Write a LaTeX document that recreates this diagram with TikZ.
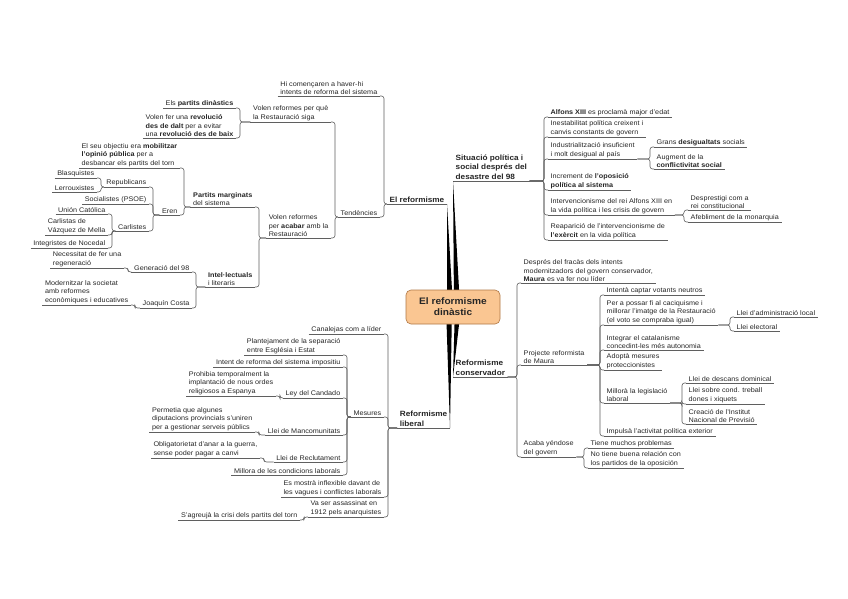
\documentclass[tikz,border=0pt]{standalone}
\usepackage{fontspec}
\setmainfont[FakeStretch=1.08]{Liberation Sans}
\definecolor{linecol}{RGB}{95,95,95}
\definecolor{nodefill}{RGB}{250,198,146}
\definecolor{nodedraw}{RGB}{176,120,70}

\begin{document}
\begin{tikzpicture}[x=1pt, y=-1pt,
	tl/.style = {inner xsep=2.5pt, inner ysep=1.2pt, align=left, text=black!85, font=\fontsize{6.7}{8.5}\selectfont},
	lft/.style = {tl, anchor=south east},
	rgt/.style = {tl, anchor=south west},
	mainl/.style = {lft, font=\fontsize{7.6}{9.6}\selectfont\bfseries},
	mainr/.style = {rgt, font=\fontsize{7.6}{9.6}\selectfont\bfseries},
	conn/.style = {draw=linecol, line width=0.6pt, rounded corners=2.5pt},
	uline/.style = {draw=linecol, line width=0.6pt},
	branch/.style = {fill=black},
	centre/.style = {draw=nodedraw, fill=nodefill, line width=0.6pt, rounded corners=5pt, minimum width=94pt, minimum height=34pt, align=center, text=black!85, font=\fontsize{9.4}{11}\selectfont\bfseries}]
	\path[fill=white] (0,0) rectangle (848,599);
	% main topics
	\node[mainl] (er) at (447,204) {El reformisme};
	\node[mainr] (sit) at (453,181) {Situació política i\\social després del\\desastre del 98};
	\node[mainr] (con) at (453,377) {Reformisme\\conservador};
	\node[mainl] (lib) at (450,428) {Reformisme\\liberal};
	% El reformisme
	\node[lft] (hi) at (380,96) {Hi començaren a haver-hi\\intents de reforma del sistema};
	\node[lft] (ten) at (380,217) {Tendències};
	\node[lft] (vq) at (331,122) {Volen reformes per què\\la Restauració siga};
	\node[lft] (va) at (331,238) {Volen reformes\\per \textbf{acabar} amb la\\Restauració};
	\node[lft] (epd) at (236,108) {Els \textbf{partits dinàstics}};
	\node[lft] (vfr) at (236,138) {Volen fer una \textbf{revolució}\\\textbf{des de dalt} per a evitar\\una \textbf{revolució des de baix}};
	\node[lft] (pm) at (255,207) {\textbf{Partits marginats}\\del sistema};
	\node[lft] (il) at (255,287) {\textbf{Intel·lectuals}\\i literaris};
	\node[lft] (obj) at (180,168) {El seu objectiu era \textbf{mobilitzar}\\\textbf{l'opinió pública} per a\\desbancar els partits del torn};
	\node[lft] (eren) at (180,215) {Eren};
	\node[lft] (rep) at (149,187) {Republicans};
	\node[lft] (soc) at (149,204) {Socialistes (PSOE)};
	\node[lft] (car) at (149,231) {Carlistes};
	\node[lft] (bla) at (97,178) {Blasquistes};
	\node[lft] (ler) at (97,192) {Lerrouxistes};
	\node[lft] (uc) at (108,214) {Unión Católica};
	\node[lft] (cvm) at (108,235) {Carlistas de\\Vázquez de Mella};
	\node[lft] (ind) at (108,248) {Integristes de Nocedal};
	\node[lft] (g98) at (192,272) {Generació del 98};
	\node[lft] (jc) at (192,308) {Joaquín Costa};
	\node[lft] (nec) at (124,268) {Necessitat de fer una\\regeneració};
	\node[lft] (mod) at (131,305) {Modernitzar la societat\\amb reformes\\econòmiques i educatives};
	% Situacio
	\node[rgt] (alf) at (548,117) {\textbf{Alfons XIII} es proclamà major d'edat};
	\node[rgt] (ine) at (548,137) {Inestabilitat política creixent i\\canvis constants de govern};
	\node[rgt] (indu) at (548,159) {Industrialització insuficient\\i molt desigual al país};
	\node[rgt] (inc) at (548,190) {Increment de \textbf{l'oposició}\\\textbf{política al sistema}};
	\node[rgt] (intv) at (548,215) {Intervencionisme del rei Alfons XIII en\\la vida política i les crisis de govern};
	\node[rgt] (rea) at (548,240) {Reaparició de l'intervencionisme de\\\textbf{l'exèrcit} en la vida política};
	\node[rgt] (gds) at (654,147) {Grans \textbf{desigualtats} socials};
	\node[rgt] (aug) at (654,169) {Augment de la\\\textbf{conflictivitat social}};
	\node[rgt] (desp) at (688,210) {Desprestigi com a\\rei constitucional};
	\node[rgt] (afe) at (688,222) {Afebliment de la monarquia};
	% Reformisme conservador
	\node[rgt] (fra) at (521,283) {Després del fracàs dels intents\\modernitzadors del govern conservador,\\\textbf{Maura} es va fer nou líder};
	\node[rgt] (pro) at (521,365) {Projecte reformista\\de Maura};
	\node[rgt] (aca) at (521,457) {Acaba yéndose\\del govern};
	\node[rgt] (icv) at (604,295) {Intentà captar votants neutros};
	\node[rgt] (ppf) at (604,325) {Per a possar fi al caciquisme i\\millorar l'imatge de la Restauració\\(el voto se compraba igual)};
	\node[rgt] (icat) at (604,350) {Integrar el catalanisme\\concedint-les més autonomia};
	\node[rgt] (adm) at (604,370) {Adoptà mesures\\proteccionistes};
	\node[rgt] (mil) at (604,403) {Millorà la legislació\\laboral};
	\node[rgt] (imp) at (604,436) {Impulsà l'activitat política exterior};
	\node[rgt] (lal) at (734,317) {Llei d'administració local};
	\node[rgt] (lel) at (734,331) {Llei electoral};
	\node[rgt] (ldd) at (686,383) {Llei de descans dominical};
	\node[rgt] (lsc) at (686,404) {Llei sobre cond. treball\\dones i xiquets};
	\node[rgt] (cip) at (686,424) {Creació de l'Institut\\Nacional de Previsió};
	\node[rgt] (tmp) at (588,448) {Tiene muchos problemas};
	\node[rgt] (ntb) at (588,468) {No tiene buena relación con\\los partidos de la oposición};
	% Reformisme liberal
	\node[lft] (can) at (384,334) {Canalejas com a líder};
	\node[lft] (mes) at (384,417) {Mesures};
	\node[lft] (esm) at (384,497) {Es mostrà inflexible davant de\\les vagues i conflictes laborals};
	\node[lft] (vsa) at (384,517) {Va ser assassinat en\\1912 pels anarquistes};
	\node[lft] (pla) at (343,355) {Plantejament de la separació\\entre Església i Estat};
	\node[lft] (irs) at (343,367) {Intent de reforma del sistema impositiu};
	\node[lft] (ldc) at (343,398) {Ley del Candado};
	\node[lft] (lman) at (343,435) {Llei de Mancomunitats};
	\node[lft] (lrec) at (343,462) {Llei de Reclutament};
	\node[lft] (mcl) at (343,475) {Millora de les condicions laborals};
	\node[lft] (prh) at (276,396) {Prohibia temporalment la\\implantació de nous ordes\\religiosos a Espanya};
	\node[lft] (per) at (255,432) {Permetia que algunes\\diputacions provincials s'uniren\\per a gestionar serveis públics};
	\node[lft] (obl) at (260,458) {Obligatorietat d'anar a la guerra,\\sense poder pagar a canvi};
	\node[lft] (sag) at (300,520) {S'agreujà la crisi dels partits del torn};
	% underlines
	\foreach \n in {er,sit,con,lib,hi,ten,vq,va,epd,vfr,pm,il,obj,eren,rep,soc,car,bla,ler,uc,cvm,ind,g98,jc,nec,mod,alf,ine,indu,inc,intv,rea,gds,aug,desp,afe,fra,pro,aca,icv,ppf,icat,adm,mil,imp,lal,lel,ldd,lsc,cip,tmp,ntb,can,mes,esm,vsa,pla,irs,ldc,lman,lrec,mcl,prh,per,obl,sag}
		\draw[uline] (\n.south west) -- (\n.south east);
	% left connectors
	\draw[conn] (er.south west) -| ([xshift=4pt]hi.south east) -- (hi.south east);
	\draw[conn] (er.south west) -| ([xshift=4pt]ten.south east) -- (ten.south east);
	\draw[conn] (ten.south west) -| ([xshift=4pt]vq.south east) -- (vq.south east);
	\draw[conn] (ten.south west) -| ([xshift=4pt]va.south east) -- (va.south east);
	\draw[conn] (vq.south west) -| ([xshift=4pt]epd.south east) -- (epd.south east);
	\draw[conn] (vq.south west) -| ([xshift=4pt]vfr.south east) -- (vfr.south east);
	\draw[conn] (va.south west) -| ([xshift=4pt]pm.south east) -- (pm.south east);
	\draw[conn] (va.south west) -| ([xshift=4pt]il.south east) -- (il.south east);
	\draw[conn] (pm.south west) -| ([xshift=4pt]obj.south east) -- (obj.south east);
	\draw[conn] (pm.south west) -| ([xshift=4pt]eren.south east) -- (eren.south east);
	\draw[conn] (eren.south west) -| ([xshift=4pt]rep.south east) -- (rep.south east);
	\draw[conn] (eren.south west) -| ([xshift=4pt]soc.south east) -- (soc.south east);
	\draw[conn] (eren.south west) -| ([xshift=4pt]car.south east) -- (car.south east);
	\draw[conn] (rep.south west) -| ([xshift=4pt]bla.south east) -- (bla.south east);
	\draw[conn] (rep.south west) -| ([xshift=4pt]ler.south east) -- (ler.south east);
	\draw[conn] (car.south west) -| ([xshift=4pt]uc.south east) -- (uc.south east);
	\draw[conn] (car.south west) -| ([xshift=4pt]cvm.south east) -- (cvm.south east);
	\draw[conn] (car.south west) -| ([xshift=4pt]ind.south east) -- (ind.south east);
	\draw[conn] (il.south west) -| ([xshift=4pt]g98.south east) -- (g98.south east);
	\draw[conn] (il.south west) -| ([xshift=4pt]jc.south east) -- (jc.south east);
	\draw[conn] (g98.south west) -| ([xshift=4pt]nec.south east) -- (nec.south east);
	\draw[conn] (jc.south west) -| ([xshift=4pt]mod.south east) -- (mod.south east);
	\draw[conn] (lib.south west) -| ([xshift=4pt]can.south east) -- (can.south east);
	\draw[conn] (lib.south west) -| ([xshift=4pt]mes.south east) -- (mes.south east);
	\draw[conn] (lib.south west) -| ([xshift=4pt]esm.south east) -- (esm.south east);
	\draw[conn] (lib.south west) -| ([xshift=4pt]vsa.south east) -- (vsa.south east);
	\draw[conn] (mes.south west) -| ([xshift=4pt]pla.south east) -- (pla.south east);
	\draw[conn] (mes.south west) -| ([xshift=4pt]irs.south east) -- (irs.south east);
	\draw[conn] (mes.south west) -| ([xshift=4pt]ldc.south east) -- (ldc.south east);
	\draw[conn] (mes.south west) -| ([xshift=4pt]lman.south east) -- (lman.south east);
	\draw[conn] (mes.south west) -| ([xshift=4pt]lrec.south east) -- (lrec.south east);
	\draw[conn] (mes.south west) -| ([xshift=4pt]mcl.south east) -- (mcl.south east);
	\draw[conn] (ldc.south west) -| ([xshift=4pt]prh.south east) -- (prh.south east);
	\draw[conn] (lman.south west) -| ([xshift=4pt]per.south east) -- (per.south east);
	\draw[conn] (lrec.south west) -| ([xshift=4pt]obl.south east) -- (obl.south east);
	\draw[conn] (vsa.south west) -| ([xshift=4pt]sag.south east) -- (sag.south east);
	% right connectors
	\draw[conn] (sit.south east) -| ([xshift=-4pt]alf.south west) -- (alf.south west);
	\draw[conn] (sit.south east) -| ([xshift=-4pt]ine.south west) -- (ine.south west);
	\draw[conn] (sit.south east) -| ([xshift=-4pt]indu.south west) -- (indu.south west);
	\draw[conn] (sit.south east) -| ([xshift=-4pt]inc.south west) -- (inc.south west);
	\draw[conn] (sit.south east) -| ([xshift=-4pt]intv.south west) -- (intv.south west);
	\draw[conn] (sit.south east) -| ([xshift=-4pt]rea.south west) -- (rea.south west);
	\draw[conn] (indu.south east) -| ([xshift=-4pt]gds.south west) -- (gds.south west);
	\draw[conn] (indu.south east) -| ([xshift=-4pt]aug.south west) -- (aug.south west);
	\draw[conn] (intv.south east) -| ([xshift=-4pt]desp.south west) -- (desp.south west);
	\draw[conn] (intv.south east) -| ([xshift=-4pt]afe.south west) -- (afe.south west);
	\draw[conn] (con.south east) -| ([xshift=-4pt]fra.south west) -- (fra.south west);
	\draw[conn] (con.south east) -| ([xshift=-4pt]pro.south west) -- (pro.south west);
	\draw[conn] (con.south east) -| ([xshift=-4pt]aca.south west) -- (aca.south west);
	\draw[conn] (pro.south east) -| ([xshift=-4pt]icv.south west) -- (icv.south west);
	\draw[conn] (pro.south east) -| ([xshift=-4pt]ppf.south west) -- (ppf.south west);
	\draw[conn] (pro.south east) -| ([xshift=-4pt]icat.south west) -- (icat.south west);
	\draw[conn] (pro.south east) -| ([xshift=-4pt]adm.south west) -- (adm.south west);
	\draw[conn] (pro.south east) -| ([xshift=-4pt]mil.south west) -- (mil.south west);
	\draw[conn] (pro.south east) -| ([xshift=-4pt]imp.south west) -- (imp.south west);
	\draw[conn] (ppf.south east) -| ([xshift=-4pt]lal.south west) -- (lal.south west);
	\draw[conn] (ppf.south east) -| ([xshift=-4pt]lel.south west) -- (lel.south west);
	\draw[conn] (mil.south east) -| ([xshift=-4pt]ldd.south west) -- (ldd.south west);
	\draw[conn] (mil.south east) -| ([xshift=-4pt]lsc.south west) -- (lsc.south west);
	\draw[conn] (mil.south east) -| ([xshift=-4pt]cip.south west) -- (cip.south west);
	\draw[conn] (aca.south east) -| ([xshift=-4pt]tmp.south west) -- (tmp.south west);
	\draw[conn] (aca.south east) -| ([xshift=-4pt]ntb.south west) -- (ntb.south west);
	% main branches
	\fill[branch] (447,307) -- (er.south east) -- (453,307) -- cycle;
	\fill[branch] (454,307) -- (sit.south west) -- (460,307) -- cycle;
	\fill[branch] (455,307) -- (con.south west) -- (461,307) -- cycle;
	\fill[branch] (446,307) -- (lib.south east) -- (452,307) -- cycle;
	\node[centre] (ctr) at (453,307) {El reformisme\\dinàstic};
\end{tikzpicture}
\end{document}
